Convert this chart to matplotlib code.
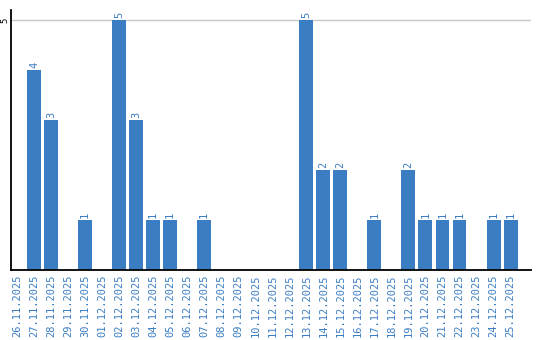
import matplotlib
matplotlib.use("Agg")
import matplotlib.pyplot as plt

dates = ["26.11.2025", "27.11.2025", "28.11.2025", "29.11.2025", "30.11.2025",
         "01.12.2025", "02.12.2025", "03.12.2025", "04.12.2025", "05.12.2025",
         "06.12.2025", "07.12.2025", "08.12.2025", "09.12.2025", "10.12.2025",
         "11.12.2025", "12.12.2025", "13.12.2025", "14.12.2025", "15.12.2025",
         "16.12.2025", "17.12.2025", "18.12.2025", "19.12.2025", "20.12.2025",
         "21.12.2025", "22.12.2025", "23.12.2025", "24.12.2025", "25.12.2025"]
counts = [0, 4, 3, 0, 1, 0, 5, 3, 1, 1, 0, 1, 0, 0, 0,
          0, 0, 5, 2, 2, 0, 1, 0, 2, 1, 1, 1, 0, 1, 1]

blue = "#3b7dc3"

fig = plt.figure(figsize=(5.4, 3.4), dpi=100)
ax = fig.add_axes([11/540, 70/340, 520/540, 260/340])

x = list(range(len(dates)))
ax.bar(x, counts, width=0.82, color=blue, zorder=2)

# value labels above non-zero bars
for i, v in enumerate(counts):
    if v > 0:
        ax.text(i, v + 0.04, str(v), rotation=90, ha="center", va="bottom",
                color=blue, fontsize=7.5, family="DejaVu Sans Mono")

ax.set_xlim(-0.35, 30.2)
ax.set_ylim(0, 5.2)
ax.set_yticks([5])
ax.set_yticklabels(["5"], rotation=90, va="center", fontsize=6.5,
                   family="DejaVu Sans Mono")
ax.set_xticks(x)
ax.set_xticklabels(dates, rotation=90, color=blue, fontsize=7.5,
                   family="DejaVu Sans Mono")
ax.tick_params(axis="x", length=0, pad=3)
ax.tick_params(axis="y", length=0, pad=1)
ax.yaxis.grid(True, color="#c8c8c8", linewidth=1, zorder=0)

for s in ["top", "right"]:
    ax.spines[s].set_visible(False)
ax.spines["left"].set_linewidth(1.3)
ax.spines["bottom"].set_linewidth(1.3)

fig.savefig("out.png", dpi=100)
